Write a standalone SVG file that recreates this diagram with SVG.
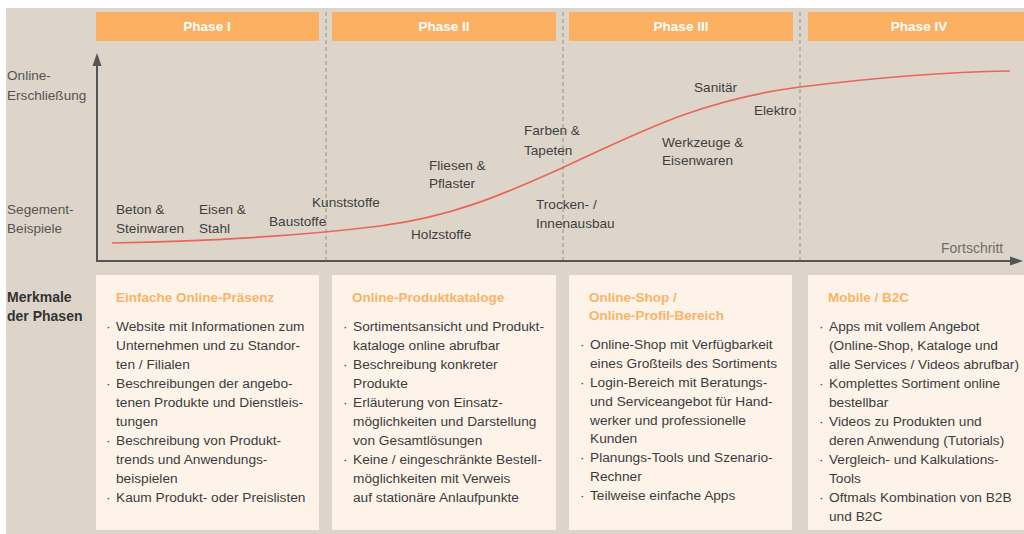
<svg xmlns="http://www.w3.org/2000/svg" width="1024" height="534" viewBox="0 0 1024 534">
<defs>
<style>
text{font-family:"Liberation Sans",Arial,sans-serif;}
.hdr{fill:#fbb062;}
.hdrt{fill:#ffffff;font-size:13.5px;font-weight:bold;text-anchor:middle;}
.dash{stroke:#b3aa9c;stroke-width:1.6;stroke-dasharray:4 3;fill:none;}
.axis{stroke:#555555;stroke-width:2;fill:none;}
.lbl{fill:#3f3f3f;font-size:13.6px;}
.side{fill:#555555;font-size:13.6px;}
.box{fill:#fdf3e9;}
.ttl{fill:#f9b469;font-size:13.5px;font-weight:bold;}
.itm{fill:#3c3c3c;font-size:13.7px;}
</style>
</defs>
<rect x="6" y="8" width="1018" height="526" fill="#ddd5c9"/>

<g id="phase-headers">
<g id="phase1"><rect class="hdr" x="96" y="12" width="223" height="29"/><text class="hdrt" x="207" y="31">Phase I</text></g>
<g id="phase2"><rect class="hdr" x="332" y="12" width="224" height="29"/><text class="hdrt" x="444" y="31">Phase II</text></g>
<g id="phase3"><rect class="hdr" x="569" y="12" width="224" height="29"/><text class="hdrt" x="681" y="31">Phase III</text></g>
<g id="phase4"><rect class="hdr" x="808" y="12" width="216" height="29"/><text class="hdrt" x="919" y="31">Phase IV</text></g>
</g>

<g id="connectors">
<line class="dash" x1="326" y1="12" x2="326" y2="261"/>
<line class="dash" x1="563" y1="12" x2="563" y2="261"/>
<line class="dash" x1="800" y1="12" x2="800" y2="261"/>
<line class="axis" x1="97" y1="262" x2="97" y2="63"/>
<polygon points="97,53 92.5,66 101.5,66" fill="#555555"/>
<line class="axis" x1="96" y1="261" x2="1012" y2="261"/>
<polygon points="1023,261 1010,256.5 1010,265.5" fill="#555555"/>
<path d="M112,243 C220,241 300,236 380,226 C450,217 500,196 562,168 C640,132 700,100 800,87 C880,77 950,72 1010,71" fill="none" stroke="#e9655a" stroke-width="1.7"/>
</g>

<g id="axis-labels">
<text class="side" x="7" y="80">Online-</text>
<text class="side" x="7" y="100">Erschließung</text>
<text class="side" x="7" y="214">Segement-</text>
<text class="side" x="7" y="233">Beispiele</text>
<text x="941" y="253" fill="#6e6e6e" font-size="14px">Fortschritt</text>
</g>

<g id="segments">
<text class="lbl" x="116" y="214">Beton &amp;</text>
<text class="lbl" x="116" y="233">Steinwaren</text>
<text class="lbl" x="199" y="214">Eisen &amp;</text>
<text class="lbl" x="199" y="233">Stahl</text>
<text class="lbl" x="269" y="226">Baustoffe</text>
<text class="lbl" x="312" y="207">Kunststoffe</text>
<text class="lbl" x="411" y="239">Holzstoffe</text>
<text class="lbl" x="429" y="170">Fliesen &amp;</text>
<text class="lbl" x="429" y="188">Pflaster</text>
<text class="lbl" x="524" y="135">Farben &amp;</text>
<text class="lbl" x="524" y="155">Tapeten</text>
<text class="lbl" x="536" y="209">Trocken- /</text>
<text class="lbl" x="536" y="228">Innenausbau</text>
<text class="lbl" x="662" y="147">Werkzeuge &amp;</text>
<text class="lbl" x="662" y="165">Eisenwaren</text>
<text class="lbl" x="694" y="92">Sanitär</text>
<text class="lbl" x="754" y="115">Elektro</text>
</g>

<g id="merkmale">
<text x="7" y="302" fill="#333333" font-size="14px" font-weight="bold">Merkmale</text>
<text x="7" y="321" fill="#333333" font-size="14px" font-weight="bold">der Phasen</text>
</g>

<g id="box1">
<rect class="box" x="96" y="275" width="223" height="255"/>
<text class="ttl" x="116" y="302">Einfache Online-Präsenz</text>
<text class="itm" x="106" y="331">·</text><text class="itm" x="116" y="331">Website mit Informationen zum</text>
<text class="itm" x="116" y="350">Unternehmen und zu Standor-</text>
<text class="itm" x="116" y="369">ten / Filialen</text>
<text class="itm" x="106" y="388">·</text><text class="itm" x="116" y="388">Beschreibungen der angebo-</text>
<text class="itm" x="116" y="407">tenen Produkte und Dienstleis-</text>
<text class="itm" x="116" y="426">tungen</text>
<text class="itm" x="106" y="445">·</text><text class="itm" x="116" y="445">Beschreibung von Produkt-</text>
<text class="itm" x="116" y="464">trends und Anwendungs-</text>
<text class="itm" x="116" y="483">beispielen</text>
<text class="itm" x="106" y="502">·</text><text class="itm" x="116" y="502">Kaum Produkt- oder Preislisten</text>
</g>

<g id="box2">
<rect class="box" x="332" y="275" width="224" height="255"/>
<text class="ttl" x="352" y="302">Online-Produktkataloge</text>
<text class="itm" x="343" y="331">·</text><text class="itm" x="353" y="331">Sortimentsansicht und Produkt-</text>
<text class="itm" x="353" y="350">kataloge online abrufbar</text>
<text class="itm" x="343" y="369">·</text><text class="itm" x="353" y="369">Beschreibung konkreter</text>
<text class="itm" x="353" y="388">Produkte</text>
<text class="itm" x="343" y="407">·</text><text class="itm" x="353" y="407">Erläuterung von Einsatz-</text>
<text class="itm" x="353" y="426">möglichkeiten und Darstellung</text>
<text class="itm" x="353" y="445">von Gesamtlösungen</text>
<text class="itm" x="343" y="464">·</text><text class="itm" x="353" y="464">Keine / eingeschränkte Bestell-</text>
<text class="itm" x="353" y="483">möglichkeiten mit Verweis</text>
<text class="itm" x="353" y="502">auf stationäre Anlaufpunkte</text>
</g>

<g id="box3">
<rect class="box" x="569" y="275" width="223" height="255"/>
<text class="ttl" x="589" y="302">Online-Shop /</text>
<text class="ttl" x="589" y="320">Online-Profil-Bereich</text>
<text class="itm" x="580" y="349">·</text><text class="itm" x="590" y="349">Online-Shop mit Verfügbarkeit</text>
<text class="itm" x="590" y="368">eines Großteils des Sortiments</text>
<text class="itm" x="580" y="387">·</text><text class="itm" x="590" y="387">Login-Bereich mit Beratungs-</text>
<text class="itm" x="590" y="406">und Serviceangebot für Hand-</text>
<text class="itm" x="590" y="425">werker und professionelle</text>
<text class="itm" x="590" y="443">Kunden</text>
<text class="itm" x="580" y="462">·</text><text class="itm" x="590" y="462">Planungs-Tools und Szenario-</text>
<text class="itm" x="590" y="481">Rechner</text>
<text class="itm" x="580" y="500">·</text><text class="itm" x="590" y="500">Teilweise einfache Apps</text>
</g>

<g id="box4">
<rect class="box" x="808" y="275" width="216" height="255"/>
<text class="ttl" x="828" y="302">Mobile / B2C</text>
<text class="itm" x="819" y="331">·</text><text class="itm" x="829" y="331">Apps mit vollem Angebot</text>
<text class="itm" x="829" y="350">(Online-Shop, Kataloge und</text>
<text class="itm" x="829" y="369">alle Services / Videos abrufbar)</text>
<text class="itm" x="819" y="388">·</text><text class="itm" x="829" y="388">Komplettes Sortiment online</text>
<text class="itm" x="829" y="407">bestellbar</text>
<text class="itm" x="819" y="426">·</text><text class="itm" x="829" y="426">Videos zu Produkten und</text>
<text class="itm" x="829" y="445">deren Anwendung (Tutorials)</text>
<text class="itm" x="819" y="464">·</text><text class="itm" x="829" y="464">Vergleich- und Kalkulations-</text>
<text class="itm" x="829" y="483">Tools</text>
<text class="itm" x="819" y="502">·</text><text class="itm" x="829" y="502">Oftmals Kombination von B2B</text>
<text class="itm" x="829" y="521">und B2C</text>
</g>
</svg>
